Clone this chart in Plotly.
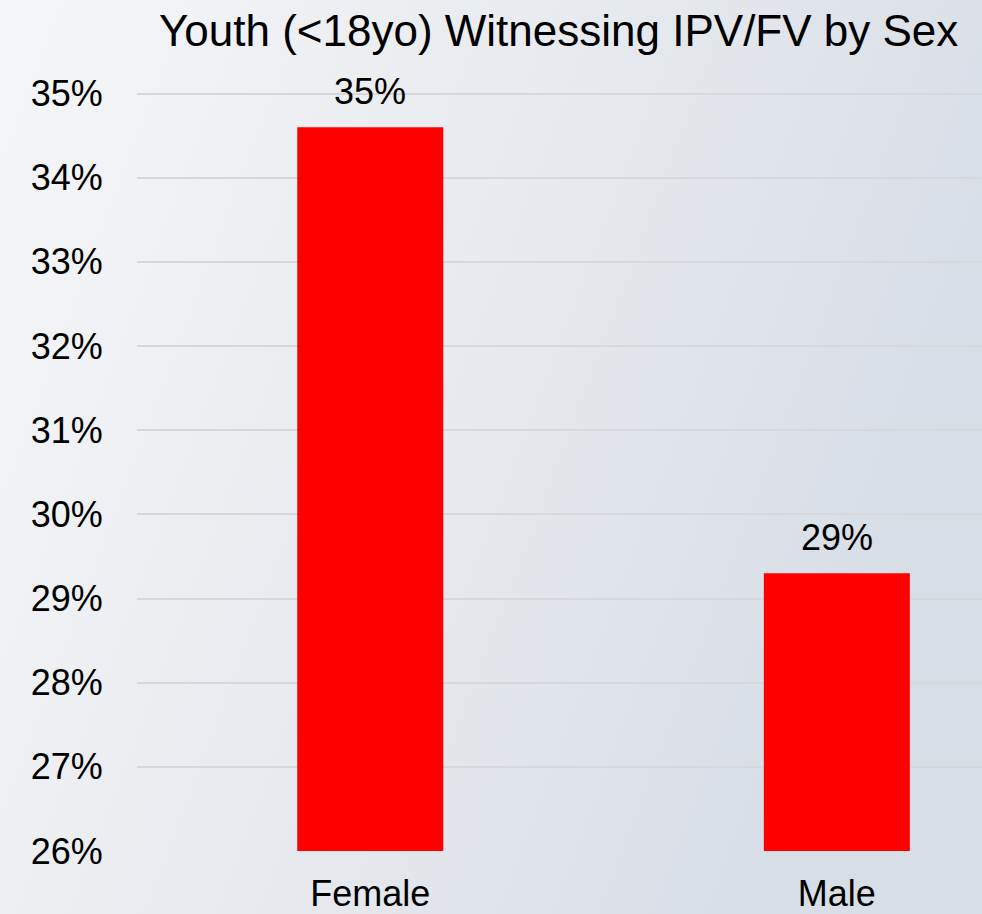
import base64
import plotly.graph_objects as go

categories = ["Female", "Male"]
values = [0.346, 0.293]
tick_vals = [0.26, 0.27, 0.28, 0.29, 0.30, 0.31, 0.32, 0.33, 0.34, 0.35]
title_text = "Youth (<18yo) Witnessing IPV/FV by Sex"

W, H = 982, 914
ML, MR, MT, MB = 137, 0, 91, 63
PW, PH = W - ML - MR, H - MT - MB

svg = (
    '<svg xmlns="http://www.w3.org/2000/svg" width="982" height="914" viewBox="0 0 982 914" preserveAspectRatio="none">'
    '<defs><linearGradient id="g" x1="0" y1="0" x2="1" y2="0.35">'
    '<stop offset="0" stop-color="#f5f6f8"/>'
    '<stop offset="0.5" stop-color="#e8ebef"/>'
    '<stop offset="1" stop-color="#d8dee6"/>'
    '</linearGradient></defs>'
    '<rect x="0" y="0" width="982" height="914" fill="url(#g)"/></svg>'
)
bg_src = "data:image/svg+xml;base64," + base64.b64encode(svg.encode()).decode()

FONT = "Liberation Sans, Arial, sans-serif"

fig = go.Figure()
fig.add_trace(go.Bar(
    x=list(range(len(categories))),
    y=values,
    base=0,
    width=0.313,
    marker=dict(color="#ff0000", line=dict(width=0)),
    hoverinfo="skip",
))

for i, v in enumerate(values):
    fig.add_annotation(
        x=i, y=v, xref="x", yref="y",
        text=f"{v:.0%}", showarrow=False,
        yanchor="middle", yshift=36,
        font=dict(family=FONT, size=36, color="#000000"),
    )

fig.add_annotation(
    x=(558 - ML) / PW, y=1 + (MT - 31) / PH, xref="paper", yref="paper",
    text=title_text, showarrow=False,
    xanchor="center", yanchor="middle",
    font=dict(family=FONT, size=44, color="#000000"),
)

fig.update_layout(
    width=W, height=H,
    autosize=False,
    margin=dict(l=ML, r=MR, t=MT, b=MB, pad=0, autoexpand=False),
    paper_bgcolor="#e9ecf0",
    plot_bgcolor="rgba(0,0,0,0)",
    showlegend=False,
    images=[dict(
        source=bg_src, xref="paper", yref="paper",
        x=-ML / PW, y=1 + MT / PH, sizex=W / PW, sizey=H / PH,
        xanchor="left", yanchor="top", sizing="stretch", layer="below",
    )],
    xaxis=dict(
        range=[-0.5, (W - 371) / 466.0],
        tickmode="array",
        tickvals=list(range(len(categories))),
        ticktext=categories,
        showgrid=False, zeroline=False, showline=False,
        ticks="outside", ticklen=11, tickcolor="rgba(0,0,0,0)",
        tickfont=dict(family=FONT, size=36, color="#000000"),
        automargin=False,
        fixedrange=True,
    ),
    yaxis=dict(
        range=[0.26, 0.3503],
        tickmode="array",
        tickvals=tick_vals,
        tickformat=".0%",
        showgrid=True, gridcolor="#d6d8db", gridwidth=2,
        zeroline=False, showline=False,
        ticks="outside", ticklen=26, tickcolor="rgba(0,0,0,0)",
        tickfont=dict(family=FONT, size=36, color="#000000"),
        automargin=False,
        fixedrange=True,
    ),
)

fig.write_html(
    "out.html",
    config={"displayModeBar": False, "staticPlot": True},
    post_script="document.body.style.margin='0';document.body.style.overflow='hidden';",
)
